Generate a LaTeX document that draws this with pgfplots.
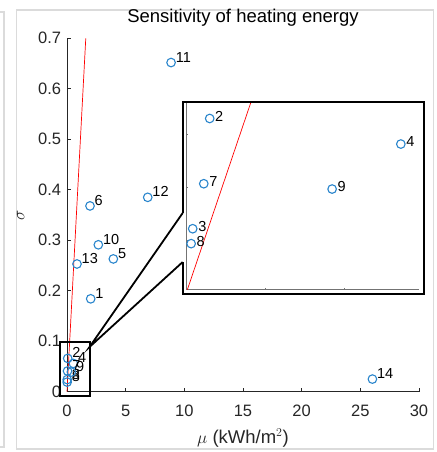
\documentclass[border=0pt]{standalone}
\usepackage{pgfplots}
\usepackage{pgfplotstable}
\pgfplotsset{compat=1.18}
\usepackage{fontspec}
\setmainfont{Liberation Sans}
\definecolor{mblue}{rgb}{0.16,0.52,0.80}
\definecolor{axgray}{rgb}{0.15,0.15,0.15}
\definecolor{insgray}{rgb}{0.45,0.45,0.45}
\definecolor{framegray}{rgb}{0.86,0.86,0.86}

\pgfplotstableread{
x y label
2.02 0.184 1
0.060 0.066 2
0.017 0.024 3
0.544 0.056 4
3.95 0.263 5
1.96 0.368 6
0.045 0.041 7
0.013 0.019 8
0.370 0.039 9
2.67 0.291 10
8.87 0.652 11
6.88 0.385 12
0.85 0.253 13
26.03 0.025 14
}\maindata

\pgfplotstableread{
x y label
0.060 0.0658 2
0.017 0.0244 3
0.544 0.0562 4
0.045 0.0413 7
0.013 0.0188 8
0.370 0.0393 9
}\insetdata

\begin{document}
\begin{tikzpicture}
\useasboundingbox (0,0) rectangle (437bp,-452bp);
% panel frames
\draw[framegray, line width=1.5bp] (0,-12bp) -- (4bp,-12bp) -- (4bp,-447bp) -- (0,-447bp);
\draw[framegray, line width=1.5bp] (16.7bp,-10bp) rectangle (433.3bp,-449bp);

\begin{axis}[
  at={(67bp,-391.7bp)}, anchor=south west,
  scale only axis, width=352bp, height=353.4bp,
  xmin=0, xmax=30, ymin=0, ymax=0.7,
  axis x line*=bottom, axis y line*=left,
  axis line style={axgray, line width=0.8bp},
  xtick={0,5,10,15,20,25,30},
  ytick={0,0.1,0.2,0.3,0.4,0.5,0.6,0.7},
  yticklabels={0,0.1,0.2,0.3,0.4,0.5,0.6,0.7},
  tick align=inside, major tick length=3.5bp,
  tick style={axgray, line width=0.6bp},
  /pgf/number format/assume math mode=true,
  ticklabel style={font=\fontsize{16.5bp}{18bp}\selectfont, text=axgray},
  yticklabel style={xshift=-2.4bp},
  xticklabel style={yshift=-9.7bp},
  title={Sensitivity of heating energy},
  title style={at={(axis description cs:0.5,1)}, anchor=base, yshift=10.3bp,
    font=\fontsize{18.5bp}{20bp}\selectfont, text=black},
  xlabel={$\mu$ (kWh/m$^2$)},
  xlabel style={at={(axis description cs:0.5,0)}, anchor=base, yshift=-51.3bp,
    font=\fontsize{18.5bp}{20bp}\selectfont, text=axgray},
  ylabel={$\sigma$},
  ylabel style={at={(axis description cs:-0.1315,0.5)}, anchor=center,
    font=\fontsize{18.5bp}{20bp}\selectfont, text=axgray},
  clip=false,
]
\addplot[red, line width=0.7bp] coordinates {(0,0) (1.6,0.7)};
\addplot[color=mblue, only marks, mark=o, mark size=4.3bp,
  mark options={line width=1.1bp},
  nodes near coords, point meta=explicit symbolic,
  nodes near coords style={anchor=base west, inner sep=0pt, xshift=4.2bp, yshift=0.5bp,
    font=\fontsize{14.5bp}{16bp}\selectfont, text=black}]
  table[x=x, y=y, meta=label] {\maindata};
\draw[black, line width=2bp, line join=miter] (axis cs:-0.6,-0.0085) rectangle (axis cs:1.92,0.099);
\end{axis}

% inset
\fill[white] (182.7bp,-101.7bp) rectangle (424bp,-294bp);
\begin{axis}[
  at={(186bp,-289.7bp)}, anchor=south west,
  scale only axis, width=233bp, height=186.4bp,
  xmin=0, xmax=0.59, ymin=0.0015, ymax=0.0715,
  scaled ticks=false,
  axis x line*=bottom, axis y line*=left,
  axis line style={insgray, line width=0.8bp},
  xtick={0.2,0.4}, ytick={0.02,0.04,0.06},
  xticklabels={}, yticklabels={},
  tick align=inside, major tick length=2bp,
  tick style={insgray, line width=0.6bp},
]
\addplot[red, line width=0.7bp] coordinates {(0,0) (1.6,0.7)};
\addplot[color=mblue, only marks, mark=o, mark size=4.3bp,
  mark options={line width=1.1bp},
  nodes near coords, point meta=explicit symbolic,
  nodes near coords style={anchor=base west, inner sep=0pt, xshift=5bp, yshift=-2.7bp,
    font=\fontsize{14.5bp}{16bp}\selectfont, text=black}]
  table[x=x, y=y, meta=label] {\insetdata};
\end{axis}

% magnifier box and callout lines
\draw[black, line width=2bp, line join=miter] (182.7bp,-213bp) -- (182.7bp,-101.7bp) -- (424bp,-101.7bp) -- (424bp,-294bp) -- (182.7bp,-294bp) -- (182.7bp,-262bp);
\draw[black, line width=1.8bp] (182.7bp,-213bp) -- (89.5bp,-347bp) -- (182.7bp,-262bp);
\end{tikzpicture}
\end{document}
